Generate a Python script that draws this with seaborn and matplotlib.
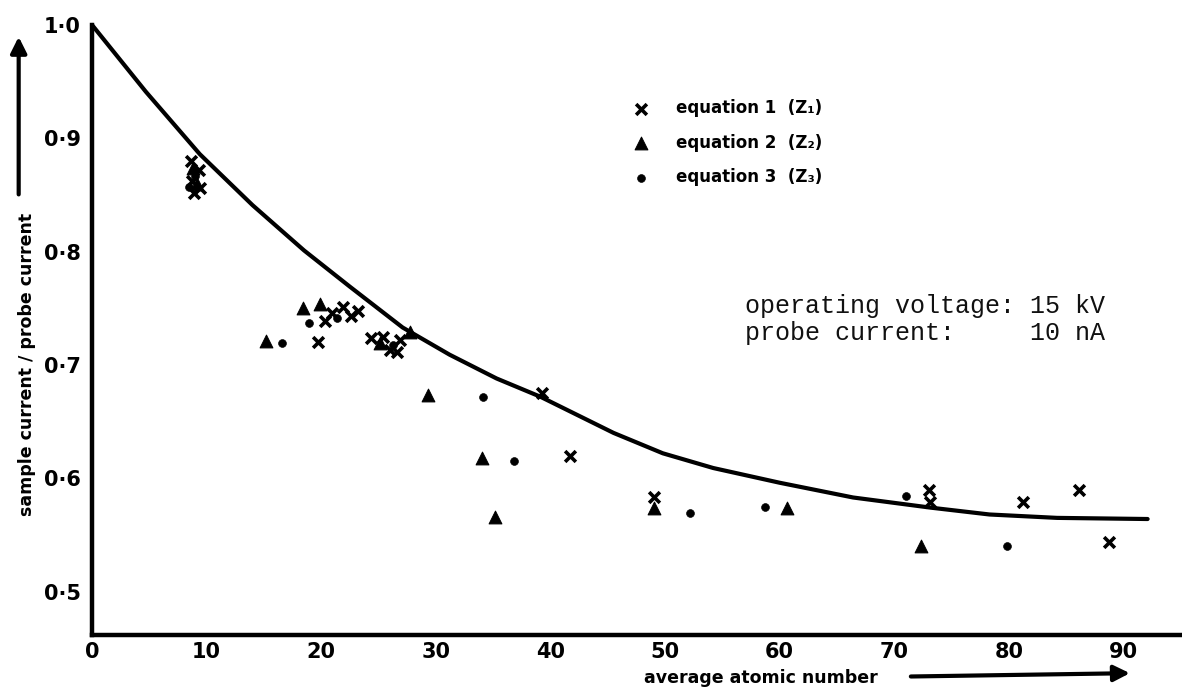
import matplotlib.pyplot as plt
import seaborn as sns

# theoretical curve
curve_z = [0, 4.7, 9.4, 14.0, 18.5, 22.5, 27.1, 31.2, 35.3, 39.1, 45.5,
           49.8, 54.2, 60.0, 66.4, 73.2, 78.3, 84.2, 92.1]
curve_ratio = [1.0, 0.941, 0.886, 0.841, 0.801, 0.769, 0.733, 0.709, 0.688,
               0.672, 0.640, 0.622, 0.609, 0.596, 0.583, 0.574, 0.568, 0.565, 0.564]

# equation 1 (Z1) - crosses
eq1_z = [8.6, 9.3, 8.7, 9.4, 8.9, 20.9, 21.9, 22.6, 23.2, 20.3, 19.7,
         24.3, 25.4, 26.0, 26.6, 26.9, 39.3, 41.7, 49.0, 73.0, 73.1, 81.2, 86.1, 88.7]
eq1_ratio = [0.880, 0.872, 0.862, 0.856, 0.852, 0.746, 0.751, 0.743, 0.748, 0.739, 0.720,
             0.724, 0.725, 0.713, 0.711, 0.722, 0.675, 0.620, 0.583, 0.590, 0.579, 0.579, 0.590, 0.544]

# equation 2 (Z2) - triangles
eq2_z = [8.8, 9.2, 15.2, 18.4, 19.9, 25.1, 27.7, 29.3, 34.0, 35.2, 49.0, 60.6, 72.3]
eq2_ratio = [0.874, 0.860, 0.721, 0.750, 0.754, 0.719, 0.729, 0.673, 0.618, 0.566,
             0.574, 0.574, 0.540]

# equation 3 (Z3) - dots
eq3_z = [9.0, 8.5, 16.6, 18.9, 21.4, 26.3, 34.1, 36.8, 52.2, 58.7, 71.0, 79.8]
eq3_ratio = [0.867, 0.857, 0.719, 0.737, 0.741, 0.718, 0.672, 0.615, 0.569, 0.575,
             0.584, 0.540]

x_ticks = [0, 10, 20, 30, 40, 50, 60, 70, 80, 90]
x_tick_labels = ['0', '10', '20', '30', '40', '50', '60', '70', '80', '90']
y_ticks = [0.5, 0.6, 0.7, 0.8, 0.9, 1.0]
y_tick_labels = ['0·5', '0·6', '0·7', '0·8', '0·9', '1·0']

sns.set_style('white')
plt.rcParams['font.family'] = ['DejaVu Sans']
plt.rcParams['text.color'] = 'black'
plt.rcParams['xtick.color'] = 'black'
plt.rcParams['ytick.color'] = 'black'

fig = plt.figure(figsize=(11.82, 6.89), dpi=100)
ax = fig.add_axes([0, 0, 1, 1])

sns.lineplot(x=curve_z, y=curve_ratio, ax=ax, color='black', linewidth=3, sort=False)
sns.scatterplot(x=eq1_z, y=eq1_ratio, ax=ax, marker='x', s=60, color='black',
                linewidth=2.6, label='equation 1  (Z₁)')
sns.scatterplot(x=eq2_z, y=eq2_ratio, ax=ax, marker='^', s=85, color='black',
                edgecolor='black', label='equation 2  (Z₂)')
sns.scatterplot(x=eq3_z, y=eq3_ratio, ax=ax, marker='o', s=32, color='black',
                edgecolor='black', label='equation 3  (Z₃)')

ax.set_xlim(-8.03, 95.1)
ax.set_ylim(0.414, 1.022)

# hand-drawn style axes
for side in ['top', 'right']:
    ax.spines[side].set_visible(False)
ax.spines['left'].set_position(('data', 0))
ax.spines['bottom'].set_position(('data', 0.462))
ax.spines['left'].set_bounds(0.462, 1.0)
ax.spines['bottom'].set_bounds(0, 95)
for side in ['left', 'bottom']:
    ax.spines[side].set_linewidth(3.2)
    ax.spines[side].set_color('black')

ax.set_xticks(x_ticks, x_tick_labels, fontweight='bold', fontsize=15)
ax.set_yticks(y_ticks, y_tick_labels, fontweight='bold', fontsize=15)
ax.tick_params(axis='x', direction='in', length=9, width=2.2, pad=5)
ax.tick_params(axis='y', direction='in', length=10, width=2.2, pad=8)
ax.set_xlabel('')
ax.set_ylabel('')

# axis titles with arrows
ax.text(-5.7, 0.70, 'sample current / probe current', rotation=90, ha='center',
        va='center', fontweight='bold', fontsize=12.5)
ax.annotate('', xy=(-6.4, 0.992), xytext=(-6.4, 0.848),
            arrowprops=dict(arrowstyle='-|>', lw=3, color='black', mutation_scale=24))
ax.text(58.4, 0.424, 'average atomic number', ha='center', va='center',
        fontweight='bold', fontsize=12.5)
ax.annotate('', xy=(90.8, 0.428), xytext=(71.2, 0.425),
            arrowprops=dict(arrowstyle='-|>', lw=3, color='black', mutation_scale=24))

# typed annotation
ax.text(57.0, 0.746, 'operating voltage: 15 kV', family='Liberation Mono',
        fontsize=18, va='baseline', ha='left', color='#111111')
ax.text(57.0, 0.722, 'probe current:     10 nA', family='Liberation Mono',
        fontsize=18, va='baseline', ha='left', color='#111111')

ax.legend(loc='upper left', bbox_to_anchor=(0.530, 0.866), frameon=False,
          prop={'weight': 'bold', 'size': 12}, handlelength=1.0,
          handletextpad=1.6, labelspacing=1.0, borderaxespad=0)

fig.savefig('out.png', dpi=100, facecolor='white')
plt.close(fig)
